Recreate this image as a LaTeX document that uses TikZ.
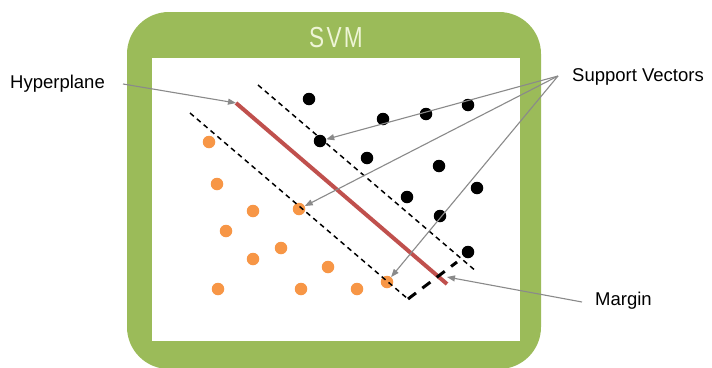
\documentclass[tikz,border=0pt]{standalone}
\usepackage{fontspec}
\setmainfont{Liberation Sans}
\newfontfamily\svmfont[FakeStretch=0.78,LetterSpace=8]{Liberation Sans}
\usetikzlibrary{arrows.meta}
\definecolor{boxgreen}{HTML}{9BBB59}
\definecolor{svmtext}{HTML}{EEF5D6}
\definecolor{hypred}{HTML}{C0504D}
\definecolor{dotorange}{HTML}{F79646}
\definecolor{pointgray}{HTML}{8A8A8A}
\tikzset{
  bdot/.style={circle,fill=black,inner sep=0pt,minimum size=12.5pt},
  odot/.style={circle,fill=dotorange,inner sep=0pt,minimum size=12.5pt},
  lbl/.style={inner sep=0pt,font=\fontsize{18.5}{20}\selectfont},
  pointer/.style={draw=pointgray,line width=1.1pt,-{Triangle[length=8pt,width=6pt]}},
  bound/.style={line width=1.5pt,dash pattern=on 5pt off 4pt},
}

\begin{document}
\begin{tikzpicture}[x=1pt,y=-1pt]
    \useasboundingbox (0,0) rectangle (712,367);
    % frame
    \fill[boxgreen,rounded corners=42pt] (127,12) rectangle (541,369);
    \fill[white] (152,58) rectangle (520,341);
    \node[text=svmtext,font=\svmfont\fontsize{29}{30}\selectfont] (title) at (336,38) {SVM};
    % classes
    \foreach \x/\y [count=\i] in {309/99,383/119,426/114,468/105,320/141,367/158,439/166,477/188,407/197,440/216,468/252}
        \node[bdot] (b\i) at (\x,\y) {};
    \foreach \x/\y [count=\i] in {209/142,217/184,253/211,299/209,226/231,281/248,253/259,328/267,218/289,301/289,357/289,387/282}
        \node[odot] (o\i) at (\x,\y) {};
    % margins and hyperplane
    \coordinate (uptop) at (258,85);
    \coordinate (upend) at (477,272);
    \coordinate (lowtop) at (190,113);
    \coordinate (lowend) at (408,299);
    \coordinate (hyptop) at (236,103);
    \coordinate (hypend) at (447,284);
    \coordinate (margtop) at (457,262);
    \coordinate (margpt) at (447,277);
    \draw[bound] (uptop) -- (upend);
    \draw[bound] (lowtop) -- (lowend);
    \draw[hypred,line width=4pt] (hyptop) -- (hypend);
    \draw[line width=3pt,dash pattern=on 10pt off 8pt] (lowend) -- (margtop);
    % labels
    \node[lbl,anchor=west] (hyp) at (10,84) {Hyperplane};
    \node[lbl,anchor=west] (sv) at (572,77) {Support Vectors};
    \node[lbl,anchor=west] (marg) at (595,301) {Margin};
    \coordinate (hypfrom) at (123,84);
    \coordinate (svfrom) at (558,76);
    \coordinate (margfrom) at (582,302);
    \draw[pointer] (hypfrom) -- (hyptop);
    \draw[pointer] (svfrom) -- (b5);
    \draw[pointer] (svfrom) -- (o4);
    \draw[pointer] (svfrom) -- (o12);
    \draw[pointer] (margfrom) -- (margpt);
\end{tikzpicture}
\end{document}
